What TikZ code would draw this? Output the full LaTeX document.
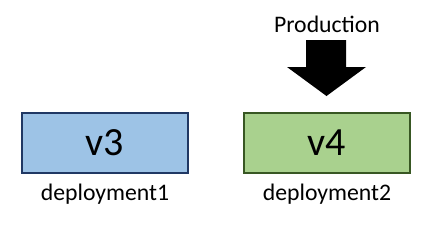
\documentclass[tikz,border=0pt]{standalone}
\usepackage{fontspec}
\setmainfont{Carlito}
\usetikzlibrary{positioning}
\definecolor{boxblue}{HTML}{9DC3E6}
\definecolor{edgeblue}{HTML}{203864}
\definecolor{boxgreen}{HTML}{A9D18E}
\definecolor{edgegreen}{HTML}{385723}
\tikzset{
    version/.style={draw, line width=1.5pt, minimum width=125pt, minimum height=45pt, inner sep=0pt, font=\fontsize{30}{36}\selectfont},
    tag/.style={font=\fontsize{17.8}{21}\selectfont, inner sep=0pt}
}
\begin{document}
\begin{tikzpicture}[x=0.75pt,y=-0.75pt]
    \useasboundingbox (0,0) rectangle (440,226);
    \node[version, fill=boxblue, draw=edgeblue] (v3) at (105,143) {v3};
    \node[version, fill=boxgreen, draw=edgegreen] (v4) at (327,143) {v4};
    \node[tag, below=7pt of v3] (dep1) {deployment1};
    \node[tag, below=7pt of v4] (dep2) {deployment2};
    \node[tag] (prod) at (327,24) {Production};
    \fill (306,40) -- (346,40) -- (346,67) -- (366,67) -- (326.5,96) -- (287,67) -- (306,67) -- cycle;
\end{tikzpicture}
\end{document}
